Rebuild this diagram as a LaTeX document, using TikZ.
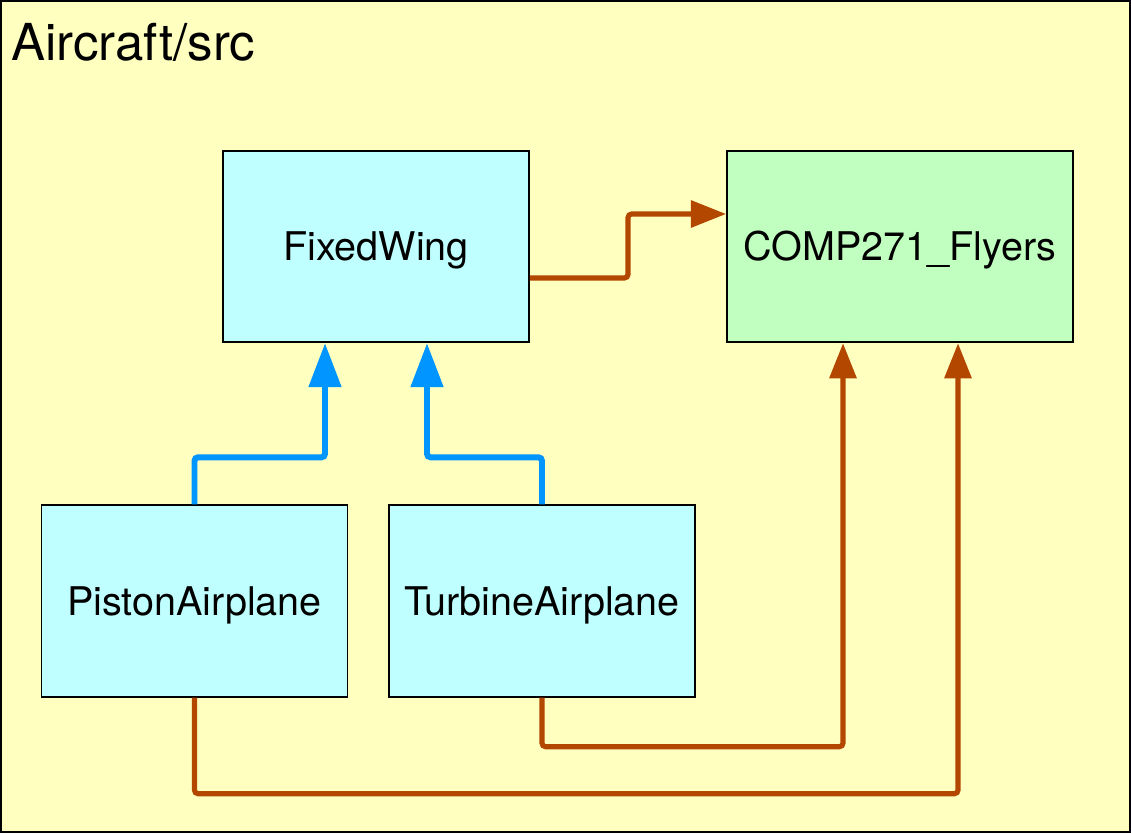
\documentclass[tikz,border=0pt]{standalone}
\usepackage{fontspec}
\setmainfont{TeX Gyre Heros}
\usetikzlibrary{arrows.meta,calc}

\definecolor{pkgyellow}{HTML}{FFFFC0}
\definecolor{clscyan}{HTML}{C0FFFF}
\definecolor{clsgreen}{HTML}{C0FFC0}
\definecolor{depbrown}{HTML}{B34700}
\definecolor{inhblue}{HTML}{0095FF}

\begin{document}
\begin{tikzpicture}[x=0.02cm,y=0.02cm,
		inh/.style={draw=inhblue,line width=3.4pt,rounded corners=2pt,-{Triangle[length=25pt,width=18pt]}},
		dep/.style={draw=depbrown,line width=2.9pt,rounded corners=2pt,-{Triangle[length=20pt,width=15pt]}}]
		\useasboundingbox (0,0) rectangle (1131,833);
		\draw[fill=pkgyellow,line width=1pt] (1,1) rectangle (1130,832);
		\node[anchor=base west,inner sep=0pt,font=\fontsize{29}{34}\selectfont] (pkg) at (11,772) {Aircraft/src};
		
		\begin{scope}[every node/.style={draw,line width=1.1pt,fill=clscyan,inner sep=0pt,minimum width=6.12cm,minimum height=3.83cm,text height=16pt,text depth=0pt,font=\fontsize{22.5}{26}\selectfont}]
			\node (fw) at (376,586.5) {FixedWing};
			\node (piston) at (194.5,232) {PistonAirplane};
			\node (turbine) at (542,232) {TurbineAirplane};
		\end{scope}
		
		\begin{scope}[every node/.style={draw,line width=1.1pt,fill=clsgreen,inner sep=0pt,minimum width=6.92cm,minimum height=3.83cm,text height=16pt,text depth=0pt,font=\fontsize{22.5}{26}\selectfont}]
			\node (flyers) at (900,586.5) {COMP271\_Flyers};
		\end{scope}
		
		\begin{scope}
			\draw[inh] (piston.north) -- ++(0,47) -| ($(fw.south)+(-51,0)$);
			\draw[inh] (turbine.north) -- ++(0,47) -| ($(fw.south)+(51,0)$);
			\draw[dep] ($(fw.east)+(0,-31.5)$) -- (628,555) |- ($(flyers.west)+(0,32.5)$);
			\draw[dep] (turbine.south) -- ++(0,-49) -| ($(flyers.south)+(-57,0)$);
			\draw[dep] (piston.south) -- ++(0,-96) -| ($(flyers.south)+(58,0)$);
		\end{scope}
	\end{tikzpicture}
\end{document}
